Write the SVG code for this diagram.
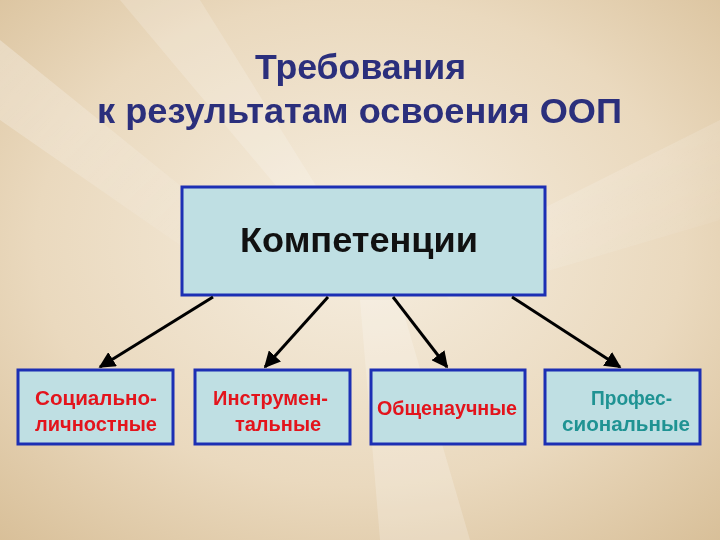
<svg xmlns="http://www.w3.org/2000/svg" width="720" height="540" viewBox="0 0 720 540">
<defs>
<radialGradient id="bg" cx="0.5" cy="0.45" r="0.75">
<stop offset="0" stop-color="#f6eee0"/>
<stop offset="0.6" stop-color="#ead9be"/>
<stop offset="1" stop-color="#d8bf98"/>
</radialGradient>
<linearGradient id="ray" x1="0" y1="0" x2="1" y2="1">
<stop offset="0" stop-color="#ffffff" stop-opacity="0.5"/>
<stop offset="1" stop-color="#ffffff" stop-opacity="0"/>
</linearGradient>
<marker id="ah" viewBox="0 0 10 10" refX="9" refY="5" markerWidth="5.5" markerHeight="5.5" orient="auto" markerUnits="strokeWidth">
<path d="M0,0 L10,5 L0,10 z" fill="#000"/>
</marker>
<style>
.box{fill:#bfdfe3;stroke:#1c2fb4;stroke-width:3}
.title{font-family:"Liberation Sans",Arial,sans-serif;font-weight:bold;font-size:35px;fill:#2b2f7c;text-anchor:middle}
.main{font-family:"Liberation Sans",Arial,sans-serif;font-weight:bold;font-size:35px;fill:#111;text-anchor:middle}
.lbl{font-family:"Liberation Sans",Arial,sans-serif;font-weight:bold;font-size:20px;text-anchor:middle}
.red{fill:#e3141c}
.teal{fill:#1f9393}
.conn line{stroke:#000;stroke-width:3;marker-end:url(#ah)}
</style>
</defs>
<rect width="720" height="540" fill="url(#bg)"/>
<g opacity="0.6">
<polygon points="0,40 260,250 230,280 0,120" fill="url(#ray)"/>
<polygon points="720,120 420,270 450,300 720,220" fill="url(#ray)"/>
<polygon points="380,540 360,300 400,300 470,540" fill="#ffffff" opacity="0.35"/>
<polygon points="120,0 330,250 350,240 200,0" fill="#ffffff" opacity="0.3"/>
</g>
<text class="title" x="360.5" y="79" textLength="211" lengthAdjust="spacingAndGlyphs">Требования</text>
<text class="title" x="359.5" y="123" textLength="525" lengthAdjust="spacingAndGlyphs">к результатам освоения ООП</text>
<g id="competencies">
<rect class="box" x="182" y="187" width="363" height="108"/>
<text class="main" x="359" y="252" textLength="238" lengthAdjust="spacingAndGlyphs">Компетенции</text>
</g>
<g id="social">
<rect class="box" x="18" y="370" width="155" height="74"/>
<text class="lbl red" x="96" y="405" textLength="122" lengthAdjust="spacingAndGlyphs">Социально-</text>
<text class="lbl red" x="96" y="431" textLength="122" lengthAdjust="spacingAndGlyphs">личностные</text>
</g>
<g id="instrumental">
<rect class="box" x="195" y="370" width="155" height="74"/>
<text class="lbl red" x="270.5" y="405" textLength="115" lengthAdjust="spacingAndGlyphs">Инструмен-</text>
<text class="lbl red" x="278" y="431">тальные</text>
</g>
<g id="general">
<rect class="box" x="371" y="370" width="154" height="74"/>
<text class="lbl red" x="447" y="415" textLength="140" lengthAdjust="spacingAndGlyphs">Общенаучные</text>
</g>
<g id="professional">
<rect class="box" x="545" y="370" width="155" height="74"/>
<text class="lbl teal" x="631.5" y="405" textLength="81" lengthAdjust="spacingAndGlyphs">Профес-</text>
<text class="lbl teal" x="626" y="431" textLength="128" lengthAdjust="spacingAndGlyphs">сиональные</text>
</g>
<g class="conn">
<line x1="213" y1="297" x2="100" y2="367"/>
<line x1="328" y1="297" x2="265" y2="367"/>
<line x1="393" y1="297" x2="447" y2="367"/>
<line x1="512" y1="297" x2="620" y2="367"/>
</g>
</svg>
